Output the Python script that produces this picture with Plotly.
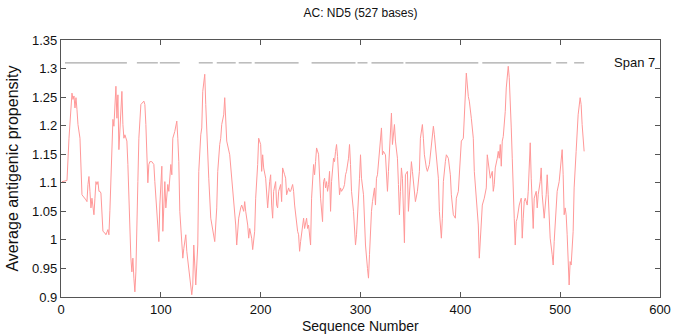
import plotly.graph_objects as go

# Sequence positions and averaged antigenic propensity (span 7)
positions = [1, 6, 8, 11, 12, 13, 14, 15, 16, 17, 19, 20, 21, 25, 26, 27, 28, 29, 30, 31, 32, 33, 34, 35, 36, 37, 38, 39, 40,
             41, 42, 44, 45, 47, 48, 49, 50, 51, 52, 53, 54, 55, 56, 57, 58, 59, 60, 61, 62, 63, 64, 65, 66, 67, 68, 69, 70,
             71, 72, 73, 74, 75, 76, 77, 78, 80, 83, 84, 85, 86, 87, 88, 89, 91, 93, 94, 95, 98, 99, 101, 102, 104, 105, 107,
             108, 110, 111, 112, 114, 116, 117, 118, 119, 121, 122, 123, 125, 126, 128, 129, 131, 132, 133, 134, 135, 137, 138,
             140, 141, 142, 144, 145, 146, 148, 150, 151, 153, 154, 156, 157, 159, 160, 161, 163, 164, 165, 166, 169, 171, 173,
             175, 176, 177, 178, 180, 181, 183, 184, 185, 187, 188, 189, 191, 192, 194, 195, 197, 198, 200, 201, 202, 203, 205,
             206, 207, 209, 210, 211, 212, 213, 215, 216, 217, 218, 220, 221, 222, 224, 225, 226, 228, 229, 230, 232, 233, 234,
             236, 237, 238, 239, 240, 242, 243, 244, 246, 247, 248, 250, 251, 253, 254, 255, 256, 258, 259, 260, 262, 263, 264,
             265, 266, 267, 268, 269, 270, 271, 273, 274, 275, 276, 277, 278, 279, 280, 281, 283, 284, 285, 286, 288, 289, 290,
             291, 293, 294, 295, 296, 298, 299, 300, 301, 303, 304, 305, 307, 308, 309, 310, 311, 312, 314, 315, 316, 317, 318,
             320, 321, 322, 323, 325, 326, 327, 328, 330, 331, 332, 333, 334, 335, 337, 338, 339, 340, 341, 342, 343, 344, 345,
             347, 348, 350, 351, 352, 354, 355, 357, 359, 360, 362, 363, 364, 366, 367, 369, 371, 373, 374, 376, 378, 379, 381,
             382, 383, 385, 386, 388, 390, 391, 393, 395, 396, 398, 399, 401, 403, 404, 406, 408, 409, 411, 413, 414, 416, 418,
             419, 421, 422, 424, 426, 427, 429, 430, 432, 433, 434, 435, 437, 438, 439, 440, 441, 442, 443, 445, 446, 448, 449,
             450, 451, 452, 453, 454, 455, 456, 457, 458, 459, 461, 462, 463, 464, 465, 467, 468, 469, 470, 471, 472, 473, 474,
             476, 477, 478, 480, 481, 482, 483, 484, 486, 487, 488, 489, 490, 492, 493, 494, 496, 497, 499, 500, 502, 503, 504,
             505, 506, 507, 508, 509, 510, 511, 513, 514, 516, 517, 518, 520, 521, 522, 523, 524]

propensity = [1.102, 1.104, 1.178, 1.257, 1.246, 1.252, 1.231, 1.249, 1.228, 1.202, 1.178, 1.114, 1.079, 1.070, 1.067, 1.097,
              1.111, 1.085, 1.056, 1.073, 1.050, 1.044, 1.073, 1.102, 1.097, 1.102, 1.085, 1.085, 1.082,
              1.038, 1.015, 1.012, 1.009, 1.018, 1.009, 1.052, 1.102, 1.178, 1.211, 1.199, 1.231, 1.269, 1.213, 1.254, 1.158,
              1.196, 1.225, 1.260, 1.202, 1.178, 1.184, 1.178, 1.173, 1.132, 1.061, 1.003, 0.968,
              0.944, 0.968, 0.933, 0.909, 0.944, 1.003, 1.102, 1.178, 1.237, 1.243, 1.237, 1.202, 1.120, 1.100, 1.132, 1.137,
              1.137, 1.132, 1.102, 1.079, 0.997, 1.061, 1.129, 1.015, 1.102, 1.056, 1.097,
              1.085, 1.132, 1.114, 1.178, 1.190, 1.208, 1.178, 1.137, 1.050, 0.991, 0.968, 0.985, 1.009, 0.980, 0.950, 0.933,
              0.904, 0.921, 0.991, 0.956, 0.921, 0.991, 1.120,
              1.184, 1.196, 1.260, 1.290, 1.237, 1.190, 1.108, 1.038, 1.026, 1.009, 0.997, 1.056, 1.120, 1.167, 1.178, 1.202,
              1.219, 1.249, 1.219, 1.173, 1.149, 1.108, 1.070,
              1.026, 0.991, 1.026, 1.038, 1.056, 1.061, 1.050, 1.067, 1.050, 1.026, 1.003, 1.020, 1.003, 0.983, 1.015, 1.073,
              1.132, 1.178, 1.167, 1.120, 1.149, 1.126, 1.108,
              1.079, 1.056, 1.102, 1.114, 1.061, 1.038, 1.085, 1.102, 1.061, 1.056, 1.085, 1.097, 1.067, 1.126, 1.114, 1.108,
              1.079, 1.091, 1.085, 1.085, 1.097, 1.085, 1.061,
              1.026, 1.015, 1.009, 0.980, 0.997, 1.020, 1.038, 1.020, 1.038, 1.020, 1.026, 0.991, 1.073, 1.132, 1.114, 1.137,
              1.161, 1.150, 1.108, 1.073, 1.032, 1.102, 1.108,
              1.091, 1.102, 1.085, 1.097, 1.120, 1.050, 1.102, 1.143, 1.137, 1.155, 1.167, 1.146, 1.120, 1.079, 1.091, 1.085,
              1.091, 1.097, 1.114, 1.120, 1.143, 1.167, 1.132,
              1.085, 1.050, 1.026, 0.991, 1.009, 1.067, 1.108, 1.149, 1.108, 1.079, 1.026, 0.991, 0.950, 0.933, 0.974, 1.026,
              1.050, 1.067, 1.091, 1.061, 1.108, 1.114, 1.132,
              1.167, 1.196, 1.149, 1.155, 1.149, 1.120, 1.085, 1.120, 1.190, 1.222, 1.167, 1.190, 1.202, 1.173, 1.143, 1.097,
              1.044, 1.085, 1.126, 1.108, 1.050, 0.995, 1.114,
              1.120, 1.050, 1.114, 1.137, 1.120, 1.079, 1.067, 1.085, 1.120, 1.178, 1.202, 1.178, 1.149, 1.126, 1.120, 1.132,
              1.161, 1.199, 1.184, 1.149, 1.108, 1.050, 1.003,
              1.038, 1.102, 1.137, 1.149, 1.143, 1.114, 1.079, 1.044, 1.038, 1.073, 1.085, 1.120, 1.173, 1.178, 1.219, 1.292,
              1.251, 1.243, 1.213, 1.178, 1.120, 1.067, 1.026,
              0.968, 1.026, 1.061, 1.073, 1.091, 1.149, 1.126, 1.108, 1.120, 1.085, 1.097, 1.126, 1.143, 1.155, 1.143, 1.167,
              1.129, 1.173, 1.181, 1.225, 1.266, 1.304, 1.284,
              1.249, 1.196, 1.143, 1.073, 1.038, 0.991, 1.032, 1.038, 1.050, 1.061, 1.073, 1.003, 1.038, 1.067, 1.073, 1.061,
              1.085, 1.132, 1.170, 1.108, 1.050, 1.020, 1.073,
              1.085, 1.056, 1.079, 1.102, 1.126, 1.079, 1.061, 1.038, 1.079, 1.114, 1.079, 1.026, 1.003, 0.974, 0.956, 0.997,
              1.050, 1.085, 1.102, 1.120, 1.158, 1.114, 1.044,
              1.056, 1.044, 1.009, 0.968, 0.921, 0.962, 0.956, 1.015, 1.091, 1.155, 1.196, 1.219, 1.249, 1.237, 1.202, 1.184,
              1.155]

# Predicted epitope segments drawn at the top (start, end positions)
segment_starts = [4, 76, 99, 138, 156, 178, 194, 251, 297, 311, 345, 422, 496, 514]
segment_ends = [66, 97, 119, 152, 175, 191, 238, 295, 307, 343, 418, 491, 507, 524]
segment_level = 1.31

x_ticks = [0, 100, 200, 300, 400, 500, 600]
y_ticks = [0.9, 0.95, 1.0, 1.05, 1.1, 1.15, 1.2, 1.25, 1.3, 1.35]
y_tick_labels = ["0.9", "0.95", "1", "1.05", "1.1", "1.15", "1.2", "1.25", "1.3", "1.35"]

seg_x, seg_y = [], []
for s, e in zip(segment_starts, segment_ends):
    seg_x += [s, e, None]
    seg_y += [segment_level, segment_level, None]

fig = go.Figure()
fig.add_trace(go.Scatter(x=seg_x, y=seg_y, mode="lines",
                         line=dict(color="#a8a8a8", width=1.2), hoverinfo="skip", showlegend=False))
fig.add_trace(go.Scatter(x=positions, y=propensity, mode="lines",
                         line=dict(color="#ff9898", width=1.0), showlegend=False))

font_family = "Liberation Sans, Arial, sans-serif"
axis_common = dict(showgrid=False, zeroline=False, showline=True, linecolor="#555555", linewidth=1.3,
                   mirror="ticks", ticks="inside", ticklen=5, tickcolor="#555555", tickwidth=1,
                   tickfont=dict(family=font_family, size=13, color="#111111"))

fig.update_layout(
    width=683, height=336,
    margin=dict(l=59, r=12, t=40, b=39),
    paper_bgcolor="white", plot_bgcolor="white",
    font=dict(family=font_family, color="#111111"),
    title=dict(text="AC: ND5 (527 bases)", x=0.5, xref="paper", xanchor="center",
               y=1 - 13 / 336, yanchor="middle", font=dict(size=12, family=font_family)),
    xaxis=dict(range=[0, 600], tickvals=x_ticks, **axis_common),
    yaxis=dict(range=[0.9, 1.35], tickvals=y_ticks, ticktext=y_tick_labels,
               title=dict(text="Average antigenic propensity", font=dict(size=16, family=font_family), standoff=9),
               **axis_common),
    annotations=[
        dict(text="Span 7", xref="paper", yref="paper", x=0.995, y=1.0 - (1.35 - 1.31) / 0.45,
             xanchor="right", yanchor="middle", showarrow=False,
             font=dict(size=13, family=font_family, color="#111111")),
        dict(text="Sequence Number", xref="paper", yref="paper", x=0.5, y=-0.152,
             xanchor="center", yanchor="bottom", showarrow=False,
             font=dict(size=14, family=font_family, color="#111111")),
    ],
)

fig.write_html("out.html")
